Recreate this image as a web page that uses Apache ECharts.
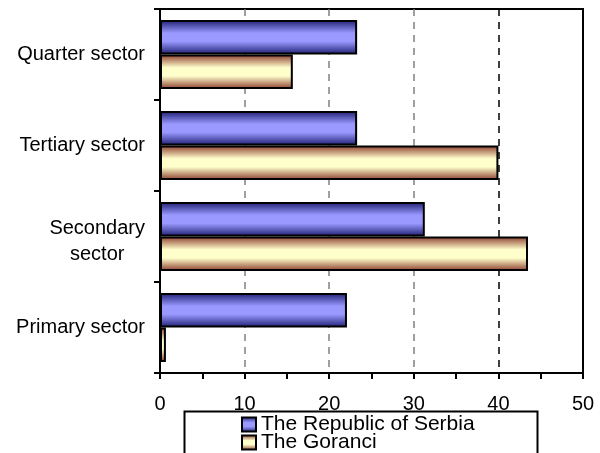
<!DOCTYPE html>
<html>
<head>
<meta charset="utf-8">
<script src="https://cdn.jsdelivr.net/npm/echarts@6/dist/echarts.min.js"></script>
<style>html,body{margin:0;padding:0;background:#fff;}#c{width:600px;height:453px;}</style>
</head>
<body>
<div id="c"></div>
<script>
const categories = ['Primary sector', 'Secondary\nsector', 'Tertiary sector', 'Quarter sector'];
const serbia = [22.1, 31.3, 23.3, 23.3];
const goranci = [0.7, 43.5, 40.0, 15.7];
const seriesNames = ['The Republic of Serbia', 'The Goranci'];
const xTicks = [0, 10, 20, 30, 40, 50];

function grad(edge, mid) {
  return new echarts.graphic.LinearGradient(0, 0, 0, 1, [
    {offset: 0, color: edge},
    {offset: 0.38, color: mid},
    {offset: 0.62, color: mid},
    {offset: 1, color: edge}
  ]);
}
const FONT = '"Liberation Sans", Arial, sans-serif';
const yData = categories.map(function (c) {
  return c.indexOf('\n') >= 0 ? {value: c, textStyle: {padding: [10, 0, 0, 0]}} : c;
});
const chart = echarts.init(document.getElementById('c'));
chart.setOption({
  animation: false,
  backgroundColor: '#fff',
  grid: {left: 160, top: 9, right: 17, bottom: 80, show: true, borderColor: '#000', borderWidth: 2, containLabel: false},
  xAxis: {
    type: 'value', min: xTicks[0], max: xTicks[xTicks.length - 1], interval: 10,
    axisLine: {show: true, lineStyle: {color: '#000', width: 2}},
    axisTick: {show: true, length: 6, lineStyle: {color: '#000', width: 2}},
    minorTick: {show: true, splitNumber: 2, length: 6, lineStyle: {color: '#000', width: 2}},
    axisLabel: {color: '#000', fontSize: 20, fontFamily: FONT, margin: 21},
    splitLine: {show: true, lineStyle: {color: ['transparent', '#808080', '#808080', '#808080', '#000', 'transparent'], width: 1.5, type: [7, 6]}}
  },
  yAxis: {
    type: 'category', data: yData,
    axisLine: {show: true, lineStyle: {color: '#000', width: 2}},
    axisTick: {show: true, length: 6, lineStyle: {color: '#000', width: 2}},
    axisLabel: {
      color: '#000', fontSize: 20, fontFamily: FONT, margin: 15, lineHeight: 26,
      formatter: function (v) { return v.split('\n').map(function (s) { return '{c|' + s + '}'; }).join('\n'); },
      rich: {c: {align: 'center', fontSize: 20, fontFamily: FONT, color: '#000', lineHeight: 26}}
    },
    splitLine: {show: false}
  },
  legend: {
    data: seriesNames, orient: 'vertical', left: 241, top: 414,
    itemWidth: 14, itemHeight: 14, itemGap: -3, padding: 0,
    icon: 'rect',
    itemStyle: {borderColor: '#000', borderWidth: 2},
    textStyle: {color: '#000', fontSize: 21, fontFamily: FONT}
  },
  graphic: [{
    type: 'rect', left: 182, top: 409, shape: {width: 353, height: 60},
    style: {fill: 'none', stroke: '#000', lineWidth: 2}, z: 0, silent: true
  }],
  series: [
    {
      name: seriesNames[0], type: 'bar', data: serbia, barGap: '0%', barCategoryGap: '24%',
      itemStyle: {color: grad('#1c1c70', '#9999ff'), borderColor: '#000', borderWidth: 2}
    },
    {
      name: seriesNames[1], type: 'bar', data: goranci, barGap: '0%', barCategoryGap: '24%',
      itemStyle: {color: grad('#8a3a2a', '#ffffcc'), borderColor: '#000', borderWidth: 2}
    }
  ]
});
</script>
</body>
</html>
